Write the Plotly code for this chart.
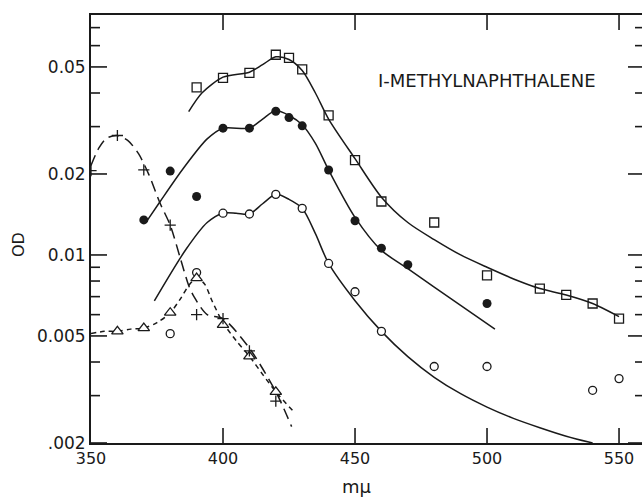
import plotly.graph_objects as go

# ---- measured points ----
sq_x = [390, 400, 410, 420, 425, 430, 440, 450, 460, 480, 500, 520, 530, 540, 550]
sq_y = [0.042, 0.0455, 0.0475, 0.0555, 0.054, 0.049, 0.033, 0.0225, 0.0158, 0.0132,
        0.0084, 0.0075, 0.0071, 0.0066, 0.0058]

fc_x = [370, 380, 390, 400, 410, 420, 425, 430, 440, 450, 460, 470, 500]
fc_y = [0.0135, 0.0205, 0.0165, 0.0296, 0.0296, 0.0342, 0.0324, 0.0302, 0.0207,
        0.0134, 0.0106, 0.0092, 0.0066]

oc_x = [380, 390, 400, 410, 420, 430, 440, 450, 460, 480, 500, 540, 550]
oc_y = [0.0051, 0.0086, 0.0143, 0.0142, 0.0168, 0.0149, 0.0093, 0.0073, 0.0052,
        0.00385, 0.00385, 0.00314, 0.00347]

tr_x = [360, 370, 380, 390, 400, 410, 420]
tr_y = [0.0052, 0.00535, 0.0061, 0.0082, 0.0055, 0.0042, 0.0031]

cr_x = [350, 360, 370, 380, 390, 400, 410, 420]
cr_y = [0.0206, 0.0278, 0.0207, 0.0129, 0.0060, 0.0058, 0.0044, 0.00286]

# ---- hand-drawn curves ----
sq_cx = [387, 392, 400, 410, 415, 420, 425, 430, 435, 440, 450, 460, 470, 480, 490, 500, 512, 520, 530, 540, 550]
sq_cy = [0.0341, 0.040, 0.0458, 0.0478, 0.0510, 0.0545, 0.0533, 0.0485, 0.040, 0.0320,
         0.0228, 0.0164, 0.0132, 0.0114, 0.0100, 0.0090, 0.0080, 0.0075, 0.0071, 0.0066, 0.0059]

fc_cx = [371, 376, 385, 394, 400, 410, 415, 420, 425, 430, 435, 440, 450, 460, 470, 480, 490, 503]
fc_cy = [0.0133, 0.0157, 0.0210, 0.0270, 0.0296, 0.0296, 0.0320, 0.0344, 0.0330, 0.0305,
         0.0260, 0.0207, 0.0138, 0.0104, 0.0089, 0.0076, 0.0065, 0.0053]

oc_cx = [374, 386, 394, 400, 405, 410, 415, 420, 425, 430, 435, 440, 450, 460, 470, 480, 490, 500, 510, 520, 530, 540]
oc_cy = [0.00675, 0.0105, 0.0132, 0.0143, 0.0143, 0.0142, 0.0155, 0.0168, 0.0161, 0.0149,
         0.0120, 0.0093, 0.00676, 0.0052, 0.00419, 0.00351, 0.00305, 0.00272, 0.00247, 0.00228,
         0.00212, 0.0020]

tr_cx = [350, 355, 360, 365, 370, 375, 380, 384, 387, 390, 393, 396, 400, 405, 410, 415, 420, 427]
tr_cy = [0.0051, 0.0052, 0.0052, 0.0053, 0.00535, 0.0056, 0.0061, 0.0069, 0.0077, 0.0082,
         0.0078, 0.0067, 0.0056, 0.0048, 0.0042, 0.0036, 0.0031, 0.0026]

cr_cx = [350, 353, 356, 360, 364, 368, 372, 376, 380, 384, 387, 389, 394, 400, 410, 420, 426]
cr_cy = [0.0215, 0.025, 0.0272, 0.0278, 0.0266, 0.0238, 0.0198, 0.0157, 0.0129, 0.0096,
         0.0077, 0.0070, 0.0060, 0.0058, 0.0045, 0.0031, 0.0023]

x_ticks = [350, 400, 450, 500, 550]
y_ticks = [0.002, 0.005, 0.01, 0.02, 0.05]
y_ticktext = [".002", "0.005", "0.01", "0.02", "0.05"]
y_minor = [0.003, 0.004, 0.006, 0.007, 0.008, 0.009, 0.03, 0.04, 0.06, 0.07]

FONT = "DejaVu Sans"
ink = "#1a1a1a"

x_range = [350, 558.7]
y_range = [-2.699, -1.108]  # log10 of .002 .. ~0.078
PW, PH = 551, 428            # plot area in px
px_per_x = PW / (x_range[1] - x_range[0])
px_per_dec = PH / (y_range[1] - y_range[0])

fig = go.Figure()

def curve(x, y, dash="solid"):
    fig.add_trace(go.Scatter(x=x, y=y, mode="lines",
                             line=dict(color=ink, width=1.5, dash=dash, shape="spline", smoothing=0.8),
                             hoverinfo="skip", showlegend=False))

curve(sq_cx, sq_cy)
curve(fc_cx, fc_cy)
curve(oc_cx, oc_cy)
curve(tr_cx, tr_cy, dash="5px,4px")
curve(cr_cx, cr_cy, dash="11px,6px")

fig.add_trace(go.Scatter(x=sq_x, y=sq_y, mode="markers",
                         marker=dict(symbol="square-open", size=9, color=ink, line=dict(width=1.3)), showlegend=False))
fig.add_trace(go.Scatter(x=fc_x, y=fc_y, mode="markers",
                         marker=dict(symbol="circle", size=9, color=ink), showlegend=False))
fig.add_trace(go.Scatter(x=oc_x, y=oc_y, mode="markers",
                         marker=dict(symbol="circle", size=8, color="white", line=dict(color=ink, width=1.3)), showlegend=False))
fig.add_trace(go.Scatter(x=tr_x, y=tr_y, mode="markers",
                         marker=dict(symbol="triangle-up", size=10, color="white", line=dict(color=ink, width=1.3)), showlegend=False))
fig.add_trace(go.Scatter(x=cr_x, y=cr_y, mode="markers",
                         marker=dict(symbol="cross-thin", size=8, color=ink, line=dict(color=ink, width=1.3)), showlegend=False))

# ---- inward tick marks, placed through the axis scales ----
tx, ty = [], []
x0, x1 = x_range
yb, yt = 10 ** y_range[0], 10 ** y_range[1]
for vals, left_len, right_len in ((y_ticks, 16, 14), (y_minor, 9, 7)):
    for v in vals:
        tx += [x0, x0 + left_len / px_per_x, None, x1 - right_len / px_per_x, x1, None]
        ty += [v, v, None, v, v, None]
for v in x_ticks[1:]:
    tx += [v, v, None, v, v, None]
    ty += [yb, yb * 10 ** (15 / px_per_dec), None, yt / 10 ** (15 / px_per_dec), yt, None]
fig.add_trace(go.Scatter(x=tx, y=ty, mode="lines", line=dict(color=ink, width=1.6),
                         hoverinfo="skip", showlegend=False, cliponaxis=False, connectgaps=False))

fig.update_layout(
    width=642, height=499,
    margin=dict(l=91, r=0, t=15, b=56),
    paper_bgcolor="white", plot_bgcolor="white",
    font=dict(family=FONT, color=ink, size=16),
    xaxis=dict(range=x_range, tickvals=x_ticks, ticks="", showline=True, linecolor=ink,
               linewidth=1.8, mirror=True, showgrid=False, zeroline=False,
               tickfont=dict(size=16, family=FONT)),
    yaxis=dict(type="log", range=y_range, tickvals=y_ticks, ticktext=y_ticktext, ticks="",
               showline=True, linecolor=ink, linewidth=1.8, showgrid=False, zeroline=False,
               tickfont=dict(size=17, family=FONT)),
    annotations=[
        dict(text="I-METHYLNAPHTHALENE", xref="paper", yref="paper", x=(487 - 91) / PW, y=(443 - 80) / PH,
             showarrow=False, font=dict(size=18, family=FONT), xanchor="center", yanchor="middle"),
        dict(text="mμ", xref="paper", yref="paper", x=(357 - 91) / PW, y=(443 - 487) / PH,
             showarrow=False, font=dict(size=18, family=FONT), xanchor="center", yanchor="middle"),
        dict(text="OD", xref="paper", yref="paper", x=(18 - 91) / PW, y=(443 - 245) / PH,
             showarrow=False, font=dict(size=16, family=FONT), textangle=-90, xanchor="center",
             yanchor="middle"),
    ],
)

fig.write_html("out.html")
